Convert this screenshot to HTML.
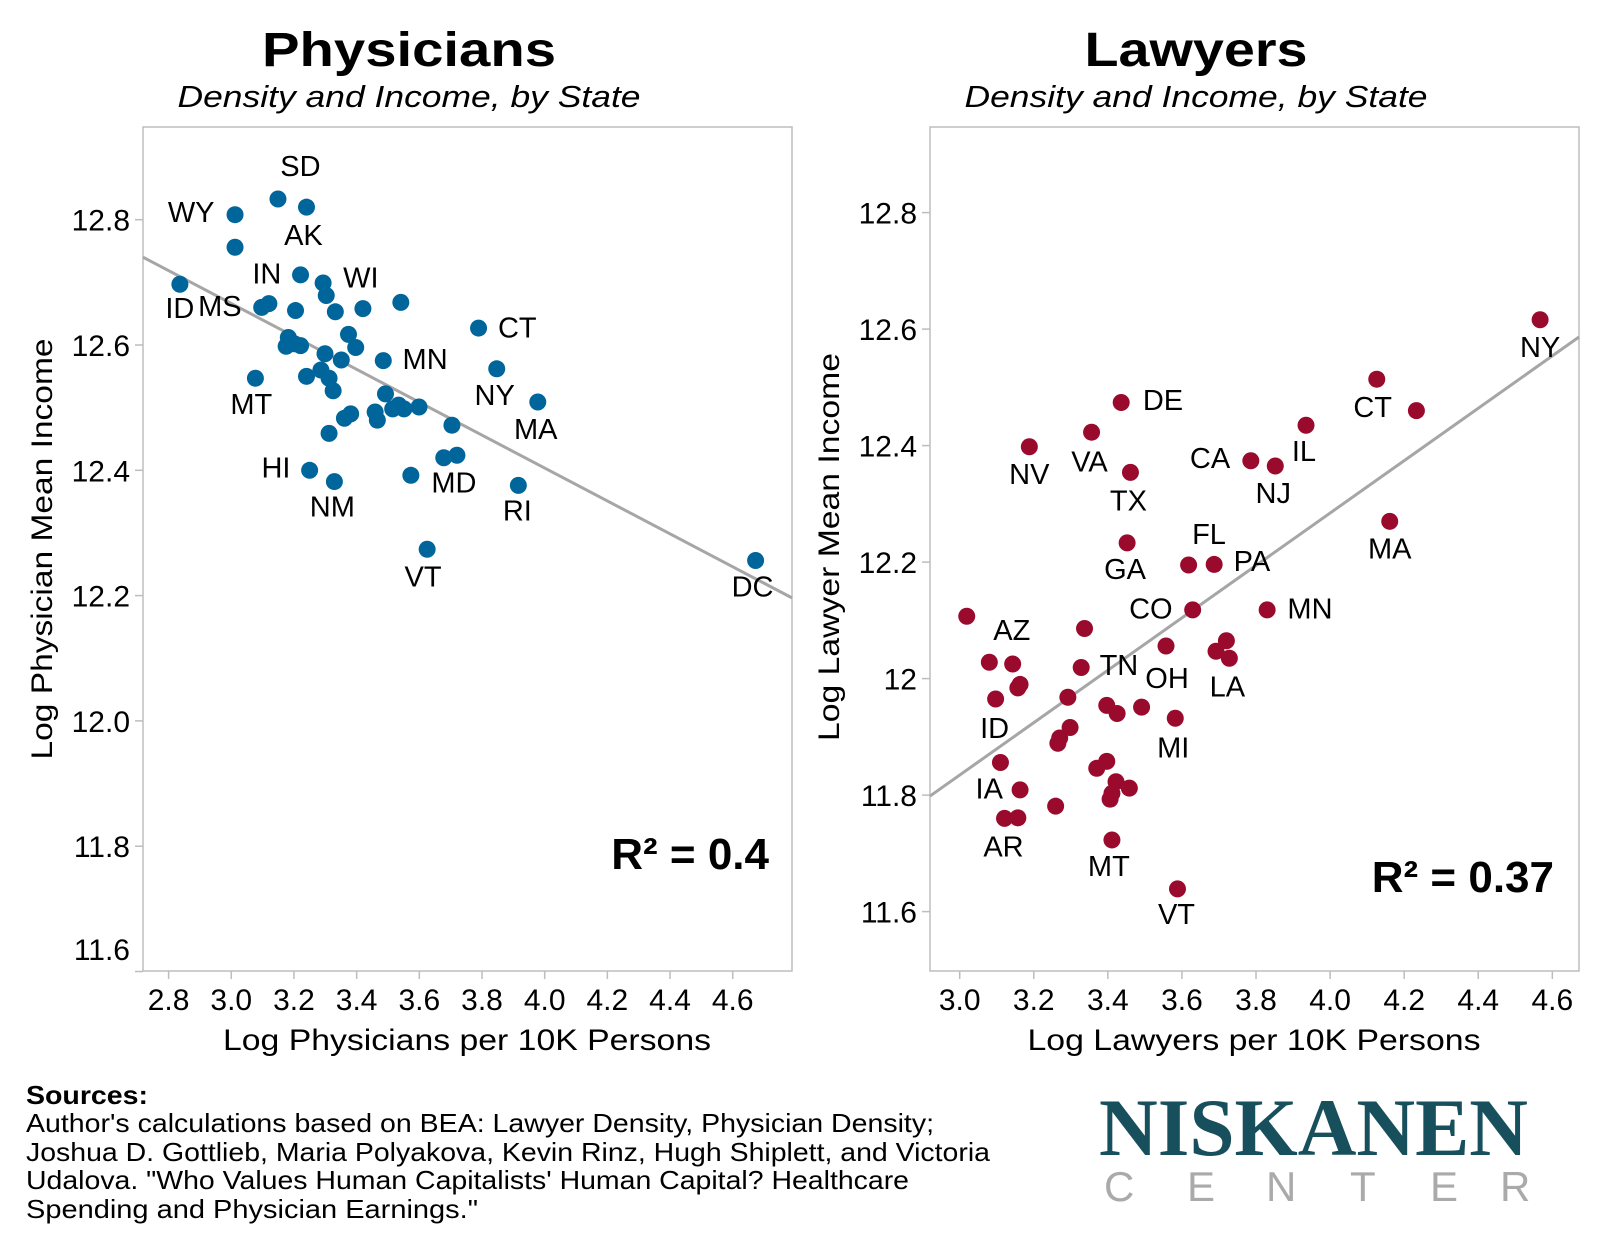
<!DOCTYPE html>
<html><head><meta charset="utf-8"><style>
html,body{margin:0;padding:0;background:#fff;}
svg text{font-family:"Liberation Sans",Arial,sans-serif;fill:#000;}
</style></head><body>
<svg id="chart" width="1600" height="1244" viewBox="0 0 1600 1244" xmlns="http://www.w3.org/2000/svg">
<rect width="1600" height="1244" fill="#fff"/>
<g id="left"></g>
<g id="right"></g>
<g>
<text x="26" y="1104" font-size="26" font-weight="bold" textLength="122" lengthAdjust="spacingAndGlyphs">Sources:</text>
<text x="26" y="1132" font-size="26" textLength="908" lengthAdjust="spacingAndGlyphs">Author's calculations based on BEA: Lawyer Density, Physician Density;</text>
<text x="26" y="1161" font-size="26" textLength="964" lengthAdjust="spacingAndGlyphs">Joshua D. Gottlieb, Maria Polyakova, Kevin Rinz, Hugh Shiplett, and Victoria</text>
<text x="26" y="1189" font-size="26" textLength="883" lengthAdjust="spacingAndGlyphs">Udalova. "Who Values Human Capitalists' Human Capital? Healthcare</text>
<text x="26" y="1218" font-size="26" textLength="452" lengthAdjust="spacingAndGlyphs">Spending and Physician Earnings."</text>
</g>
<g>
<text x="1099" y="1155" font-size="82" font-weight="bold" fill="#17505c" style="font-family:'Liberation Serif',serif;fill:#17505c" textLength="429" lengthAdjust="spacingAndGlyphs">NISKANEN</text>
<g fill="#aaa">
<text x="1104" y="1201" font-size="42" style="fill:#aaa">C</text>
<text x="1187" y="1201" font-size="42" style="fill:#aaa">E</text>
<text x="1266" y="1201" font-size="42" style="fill:#aaa">N</text>
<text x="1350" y="1201" font-size="42" style="fill:#aaa">T</text>
<text x="1430" y="1201" font-size="42" style="fill:#aaa">E</text>
<text x="1500" y="1201" font-size="42" style="fill:#aaa">R</text>
</g>
</g>
</svg>
<script>
// ---- Physicians data ----
const physX = [3.012,3.012,3.149,3.240,2.836,3.221,3.293,3.303,3.097,3.120,3.205,3.332,3.420,3.541,3.374,3.397,3.182,3.201,3.175,3.221,3.299,3.351,3.485,3.789,3.077,3.240,3.286,3.312,3.325,3.847,3.978,3.492,3.534,3.515,3.551,3.599,3.459,3.466,3.361,3.381,3.704,3.312,3.678,3.720,3.250,3.329,3.573,3.916,3.625,4.673];
const physY = [12.808,12.756,12.833,12.820,12.697,12.712,12.699,12.679,12.660,12.666,12.655,12.653,12.658,12.668,12.617,12.596,12.612,12.602,12.598,12.599,12.586,12.576,12.575,12.627,12.547,12.550,12.560,12.547,12.527,12.562,12.509,12.522,12.504,12.498,12.498,12.501,12.493,12.480,12.483,12.490,12.472,12.459,12.420,12.424,12.400,12.382,12.392,12.376,12.274,12.256];
const physLabels = ["WY","","SD","AK","ID","IN","WI","","MS","","","","","","","","","","","","","","MN","CT","MT","","","","","NY","MA","","","","","","","","","","","","","MD","HI","NM","","RI","VT","DC"];
const physFit = [13.454,-0.2626];
const physR2 = ["0.4"];
const physXTicks = [2.8,3.0,3.2,3.4,3.6,3.8,4.0,4.2,4.4,4.6];
const physYTicks = [12.8,12.6,12.4,12.2,12.0,11.8,11.6];
const physYTickLabels = ["12.8","12.6","12.4","12.2","12.0","11.8","11.6"];
// ---- Lawyers data ----
const lawX = [4.567,4.126,4.233,3.436,3.935,3.356,3.188,3.786,3.852,3.461,4.161,3.452,3.618,3.687,3.629,3.830,3.019,3.337,3.557,3.720,3.692,3.728,3.080,3.143,3.328,3.163,3.157,3.097,3.292,3.397,3.425,3.491,3.582,3.298,3.270,3.265,3.110,3.397,3.370,3.422,3.458,3.406,3.411,3.163,3.259,3.121,3.157,3.411,3.588];
const lawY = [12.616,12.514,12.460,12.474,12.435,12.423,12.398,12.374,12.365,12.354,12.270,12.233,12.195,12.196,12.118,12.118,12.107,12.086,12.056,12.065,12.047,12.035,12.028,12.025,12.019,11.990,11.984,11.965,11.968,11.954,11.940,11.951,11.932,11.916,11.898,11.889,11.856,11.858,11.846,11.823,11.812,11.793,11.803,11.809,11.781,11.760,11.761,11.723,11.639];
const lawLabels = ["NY","CT","","DE","IL","VA","NV","CA","NJ","TX","MA","GA","FL","PA","CO","MN","","","OH","","","LA","AZ","","TN","","","ID","","","","","MI","","","","IA","","","","","","","","","AR","","MT","VT"];
const lawFit = [10.485,0.4498];
const lawR2 = ["0.37"];
const lawXTicks = [3.0,3.2,3.4,3.6,3.8,4.0,4.2,4.4,4.6];
const lawYTicks = [12.8,12.6,12.4,12.2,12.0,11.8,11.6];
const lawYTickLabels = ["12.8","12.6","12.4","12.2","12","11.8","11.6"];

// label offsets (styling, px)
const physOff = {WY:[-43,-3],SD:[22,-33],AK:[-3,27],ID:[0,23],IN:[-33,-2],WI:[37,-6],MS:[-41,-2],MN:[41,-2],CT:[38,-1],MT:[-4,25],NY:[-2,25],MA:[-2,26],MD:[-3,26],HI:[-33,-3],NM:[-2,24],RI:[-1,24],VT:[-4,26],DC:[-3,25]};
const lawOff = {NY:[0,26],CT:[-4,27],DE:[41,-3],IL:[-2,25],VA:[-2,28],NV:[0,26],CA:[-40,-3],NJ:[-2,26],TX:[-2,27],MA:[0,26],GA:[-2,25],FL:[20,-31],PA:[37,-4],CO:[-41,-2],MN:[42,-2],OH:[1,31],LA:[-2,27],AZ:[22,-32],TN:[37,-3],ID:[-1,28],MI:[-2,28],IA:[-11,25],AR:[-1,27],MT:[-3,25],VT:[-1,24]};

const NS = "http://www.w3.org/2000/svg";
function mk(parent, tag, attrs, txt){
  const e = document.createElementNS(NS, tag);
  for (const k in attrs) e.setAttribute(k, attrs[k]);
  if (txt !== undefined) e.textContent = txt;
  parent.appendChild(e);
  return e;
}

function panel(cfg){
  const g = document.getElementById(cfg.id);
  const xs = v => cfg.x0 + (v - cfg.xv0) * cfg.xk;
  const ys = v => cfg.y0 - (v - cfg.yv0) * cfg.yk;
  let t = mk(g,'text',{x:cfg.cx,y:66,'font-size':48,'font-weight':'bold','text-anchor':'middle',textLength:cfg.titleW,lengthAdjust:'spacingAndGlyphs'},cfg.title);
  
  
  t = mk(g,'text',{x:cfg.cx,y:107,'font-size':31,'font-style':'italic','text-anchor':'middle',textLength:463,lengthAdjust:'spacingAndGlyphs'},'Density and Income, by State');
  
  
  const b = mk(g,'rect',{x:cfg.bx0,y:127,width:cfg.bx1-cfg.bx0,height:844,fill:'none',stroke:'#bdbdbd','stroke-width':1.5});
  
  
  cfg.yTicks.forEach((v,i)=>{
    const y = ys(v);
    const l = mk(g,'line',{x1:cfg.bx0-8,x2:cfg.bx0,y1:y,y2:y,stroke:'#bdbdbd','stroke-width':1.5});
    
    
    const ty = Math.min(y, 949);
    const tt = mk(g,'text',{x:cfg.bx0-13,y:ty+11,'font-size':30,'text-anchor':'end'},cfg.yTickLabels[i]);
    
    
  });
  cfg.xTicks.forEach(v=>{
    const x = xs(v);
    const l = mk(g,'line',{x1:x,x2:x,y1:971,y2:979,stroke:'#bdbdbd','stroke-width':1.5});
    
    
    const tt = mk(g,'text',{x:x,y:1010,'font-size':30,'text-anchor':'middle'},v.toFixed(1));
    
    
  });
  t = mk(g,'text',{x:cfg.xtx,y:1050,'font-size':30,'text-anchor':'middle',textLength:cfg.xtW,lengthAdjust:'spacingAndGlyphs'},cfg.xTitle);
  
  
  t = mk(g,'text',{x:0,y:0,'font-size':30,'text-anchor':'middle',textLength:cfg.ytW,lengthAdjust:'spacingAndGlyphs',transform:`translate(${cfg.ytx},${cfg.yty}) rotate(-90)`},cfg.yTitle);
  
  
  const xa = cfg.xv0 + (cfg.bx0 - cfg.x0)/cfg.xk, xb = cfg.xv0 + (cfg.bx1 - cfg.x0)/cfg.xk;
  const fl = mk(g,'line',{x1:cfg.bx0,y1:ys(cfg.fit[0]+cfg.fit[1]*xa),x2:cfg.bx1,y2:ys(cfg.fit[0]+cfg.fit[1]*xb),stroke:'#a6a6a6','stroke-width':3});
  
  
  cfg.xv.forEach((xv,i)=>{
    const c = mk(g,'circle',{cx:xs(xv),cy:ys(cfg.yv[i]),r:8.5,fill:cfg.color});
    
    
  });
  cfg.xv.forEach((xv,i)=>{
    const lab = cfg.labels[i];
    if(!lab) return;
    const o = cfg.off[lab] || [0,25];
    const tl = mk(g,'text',{x:xs(xv)+o[0]*1.02,y:ys(cfg.yv[i])+o[1]*1.02+10.5,'font-size':29,'text-anchor':'middle'},lab);
    
    
  });
  t = mk(g,'text',{x:cfg.r2x,y:cfg.r2y,'font-size':44,'font-weight':'bold','text-anchor':'end'},'R² = '+cfg.r2[0]);
  
  
}

panel({id:'left',title:'Physicians',titleW:294,cx:409,bx0:143,bx1:792,x0:168.6,xv0:2.8,xk:313.4,y0:219.7,yv0:12.8,yk:626.5,
  xTicks:physXTicks,yTicks:physYTicks,yTickLabels:physYTickLabels,xTitle:'Log Physicians per 10K Persons',xtx:467,xtW:488,
  yTitle:'Log Physician Mean Income',ytx:52,yty:549,ytW:421,fit:physFit,xv:physX,yv:physY,labels:physLabels,off:physOff,
  color:'#00659a',r2:physR2,r2x:769,r2y:869});
panel({id:'right',title:'Lawyers',titleW:223,cx:1196,bx0:930,bx1:1579,x0:959.7,xv0:3.0,xk:370.4,y0:212.6,yv0:12.8,yk:582.5,
  xTicks:lawXTicks,yTicks:lawYTicks,yTickLabels:lawYTickLabels,xTitle:'Log Lawyers per 10K Persons',xtx:1254,xtW:453,
  yTitle:'Log Lawyer Mean Income',ytx:839,yty:547,ytW:388,fit:lawFit,xv:lawX,yv:lawY,labels:lawLabels,off:lawOff,
  color:'#9a0a2c',r2:lawR2,r2x:1554,r2y:892});
</script>
</body></html>
